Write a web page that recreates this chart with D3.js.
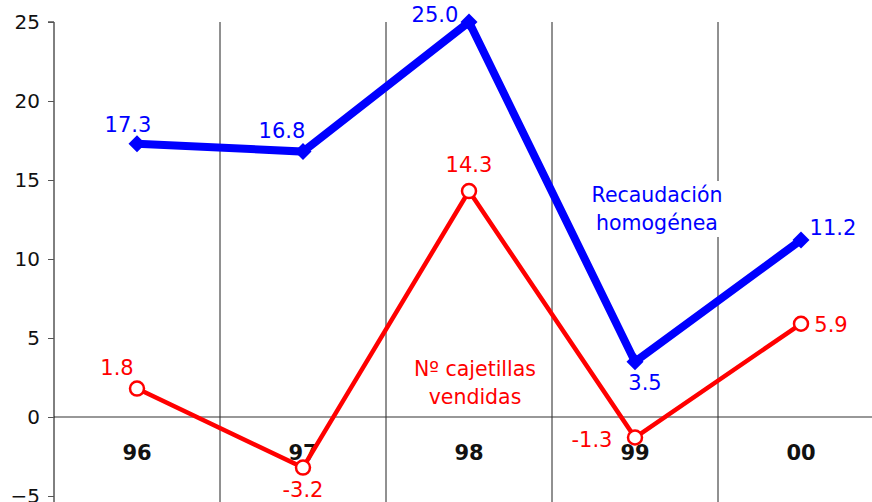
<!DOCTYPE html>
<html><head><meta charset="utf-8">
<script src="https://cdnjs.cloudflare.com/ajax/libs/d3/7.8.5/d3.min.js"></script>
<style>body{margin:0;background:#fff}svg{display:block}</style>
</head><body>
<svg id="c" width="872" height="502"></svg>
<script>
const categories = ["96","97","98","99","00"];
const recaudacion = [17.3, 16.8, 25.0, 3.5, 11.2];
const cajetillas = [1.8, -3.2, 14.3, -1.3, 5.9];
const yTicks = [-5, 0, 5, 10, 15, 20, 25];
const seriesNames = ["Recaudación homogénea", "Nº cajetillas vendidas"];

const svg = d3.select("#c");
const font = "DejaVu Sans, Verdana, sans-serif";
const x = d3.scaleBand().domain(categories).range([54, 884]).padding(0);
const y = d3.scaleLinear().domain([-5, 25]).range([496, 22]);
const cx = d => x(d) + x.bandwidth() / 2;

// vertical grid lines at band boundaries
svg.append("g").selectAll("line").data(categories.slice(1)).join("line")
  .attr("x1", d => x(d)).attr("x2", d => x(d))
  .attr("y1", y(25)).attr("y2", 502)
  .attr("stroke", "#222").attr("stroke-width", 1);

// zero line
svg.append("line").attr("x1", 54).attr("x2", 872).attr("y1", y(0)).attr("y2", y(0))
  .attr("stroke", "#333").attr("stroke-width", 1.2);

// y axis
const yAxis = d3.axisLeft(y).tickValues(yTicks).tickSize(6).tickPadding(8).tickFormat(d3.format("d"));
const ga = svg.append("g").attr("transform", "translate(54,0)").call(yAxis);
ga.select(".domain").attr("stroke", "#000").attr("d", `M-6,${y(25)}H0V502`);
ga.selectAll(".tick line").attr("stroke", "#555");
ga.selectAll("text").attr("font-family", font).attr("font-size", 20).attr("fill", "#111");

// category labels
svg.append("g").selectAll("text").data(categories).join("text")
  .attr("x", d => cx(d)).attr("y", 460).attr("text-anchor", "middle")
  .attr("font-family", font).attr("font-size", 21).attr("font-weight", "bold").attr("fill", "#111")
  .text(d => d);

// series labels (with white background)
function multiLabel(lines, xc, yb, color) {
  const g = svg.append("g");
  const t = g.append("text").attr("font-family", font).attr("font-size", 20.5).attr("fill", color).attr("text-anchor", "middle");
  lines.forEach((l, i) => t.append("tspan").attr("x", xc).attr("y", yb + i * 28).text(l));
  const bb = t.node().getBBox();
  g.insert("rect", "text").attr("x", bb.x - 3).attr("y", bb.y - 2).attr("width", bb.width + 6).attr("height", bb.height + 4).attr("fill", "#fff");
}
multiLabel(["Recaudación", "homogénea"], 657, 202, "#0000ff");
multiLabel(["Nº cajetillas", "vendidas"], 475, 376, "#ff0000");

// lines
const line = d3.line().x((d, i) => cx(categories[i])).y(d => y(d));
svg.append("path").datum(recaudacion).attr("d", line).attr("fill", "none")
  .attr("stroke", "#0000ff").attr("stroke-width", 8).attr("stroke-linejoin", "miter");
svg.append("path").datum(cajetillas).attr("d", line).attr("fill", "none")
  .attr("stroke", "#ff0000").attr("stroke-width", 4.5).attr("stroke-linejoin", "miter");

// markers
svg.append("g").selectAll("path").data(recaudacion).join("path")
  .attr("transform", (d, i) => `translate(${cx(categories[i])},${y(d)})`)
  .attr("d", "M0,-8.5L8.5,0L0,8.5L-8.5,0Z").attr("fill", "#0000ff");
svg.append("g").selectAll("circle").data(cajetillas).join("circle")
  .attr("cx", (d, i) => cx(categories[i])).attr("cy", d => y(d)).attr("r", 7)
  .attr("fill", "#fff").attr("stroke", "#ff0000").attr("stroke-width", 2.5);

// value labels
const blueLab = [[-9, -12], [-21, -14], [-34, 0], [10, 28], [32, -5]];
const redLab = [[-20, -14], [0, 29], [0, -19], [-43, 9], [30, 8]];
svg.append("g").selectAll("text").data(recaudacion).join("text")
  .attr("x", (d, i) => cx(categories[i]) + blueLab[i][0]).attr("y", (d, i) => y(d) + blueLab[i][1])
  .attr("text-anchor", "middle").attr("font-family", font).attr("font-size", 21).attr("fill", "#0000ff")
  .text(d => d.toFixed(1));
svg.append("g").selectAll("text").data(cajetillas).join("text")
  .attr("x", (d, i) => cx(categories[i]) + redLab[i][0]).attr("y", (d, i) => y(d) + redLab[i][1])
  .attr("text-anchor", "middle").attr("font-family", font).attr("font-size", 21).attr("fill", "#ff0000")
  .text(d => d.toFixed(1));
</script>
</body></html>
